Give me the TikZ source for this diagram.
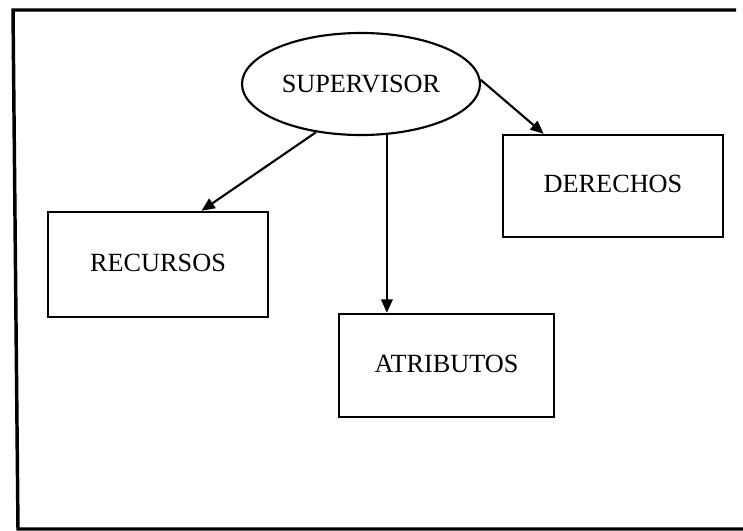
\documentclass[tikz,border=0pt]{standalone}
\usepackage{fontspec}
\setmainfont{Liberation Serif}
\usetikzlibrary{shapes.geometric,arrows.meta}
\begin{document}
\begin{tikzpicture}[x=0.75pt,y=-0.75pt,
  lbl/.style={font=\fontsize{19.7}{23}\selectfont},
  boxnode/.style={draw,line width=1.8pt,rectangle,inner sep=0pt,lbl},
  ovalnode/.style={draw,line width=1.6pt,ellipse,inner sep=0pt,lbl},
  arr/.style={line width=1.6pt,-{Triangle[length=10pt,width=8.5pt]}},
  frameline/.style={line width=2.6pt}]
\useasboundingbox (0,0) rectangle (743,531);
\coordinate (f1) at (736,10);
\coordinate (f2) at (13,10);
\coordinate (f3) at (18,529);
\coordinate (f4) at (743,529);
\draw[frameline] (f1) -- (f2) -- (f3) -- (f4);
\node[ovalnode,minimum width=238*0.75pt,minimum height=102*0.75pt] (sup) at (361,84) {SUPERVISOR};
\node[boxnode,minimum width=220*0.75pt,minimum height=105*0.75pt] (rec) at (158,264.5) {\raisebox{3pt}{RECURSOS}};
\node[boxnode,minimum width=215*0.75pt,minimum height=103*0.75pt] (atr) at (446.5,365.5) {\raisebox{2pt}{ATRIBUTOS}};
\node[boxnode,minimum width=220*0.75pt,minimum height=102*0.75pt] (der) at (613,186) {\raisebox{3pt}{DERECHOS}};
\draw[arr] (sup.227) -- (rec.51.3);
\draw[arr] (sup.297.6) -- (sup.297.6 |- atr.north);
\draw[arr] (sup.2) -- (der.143.1);
\end{tikzpicture}
\end{document}
